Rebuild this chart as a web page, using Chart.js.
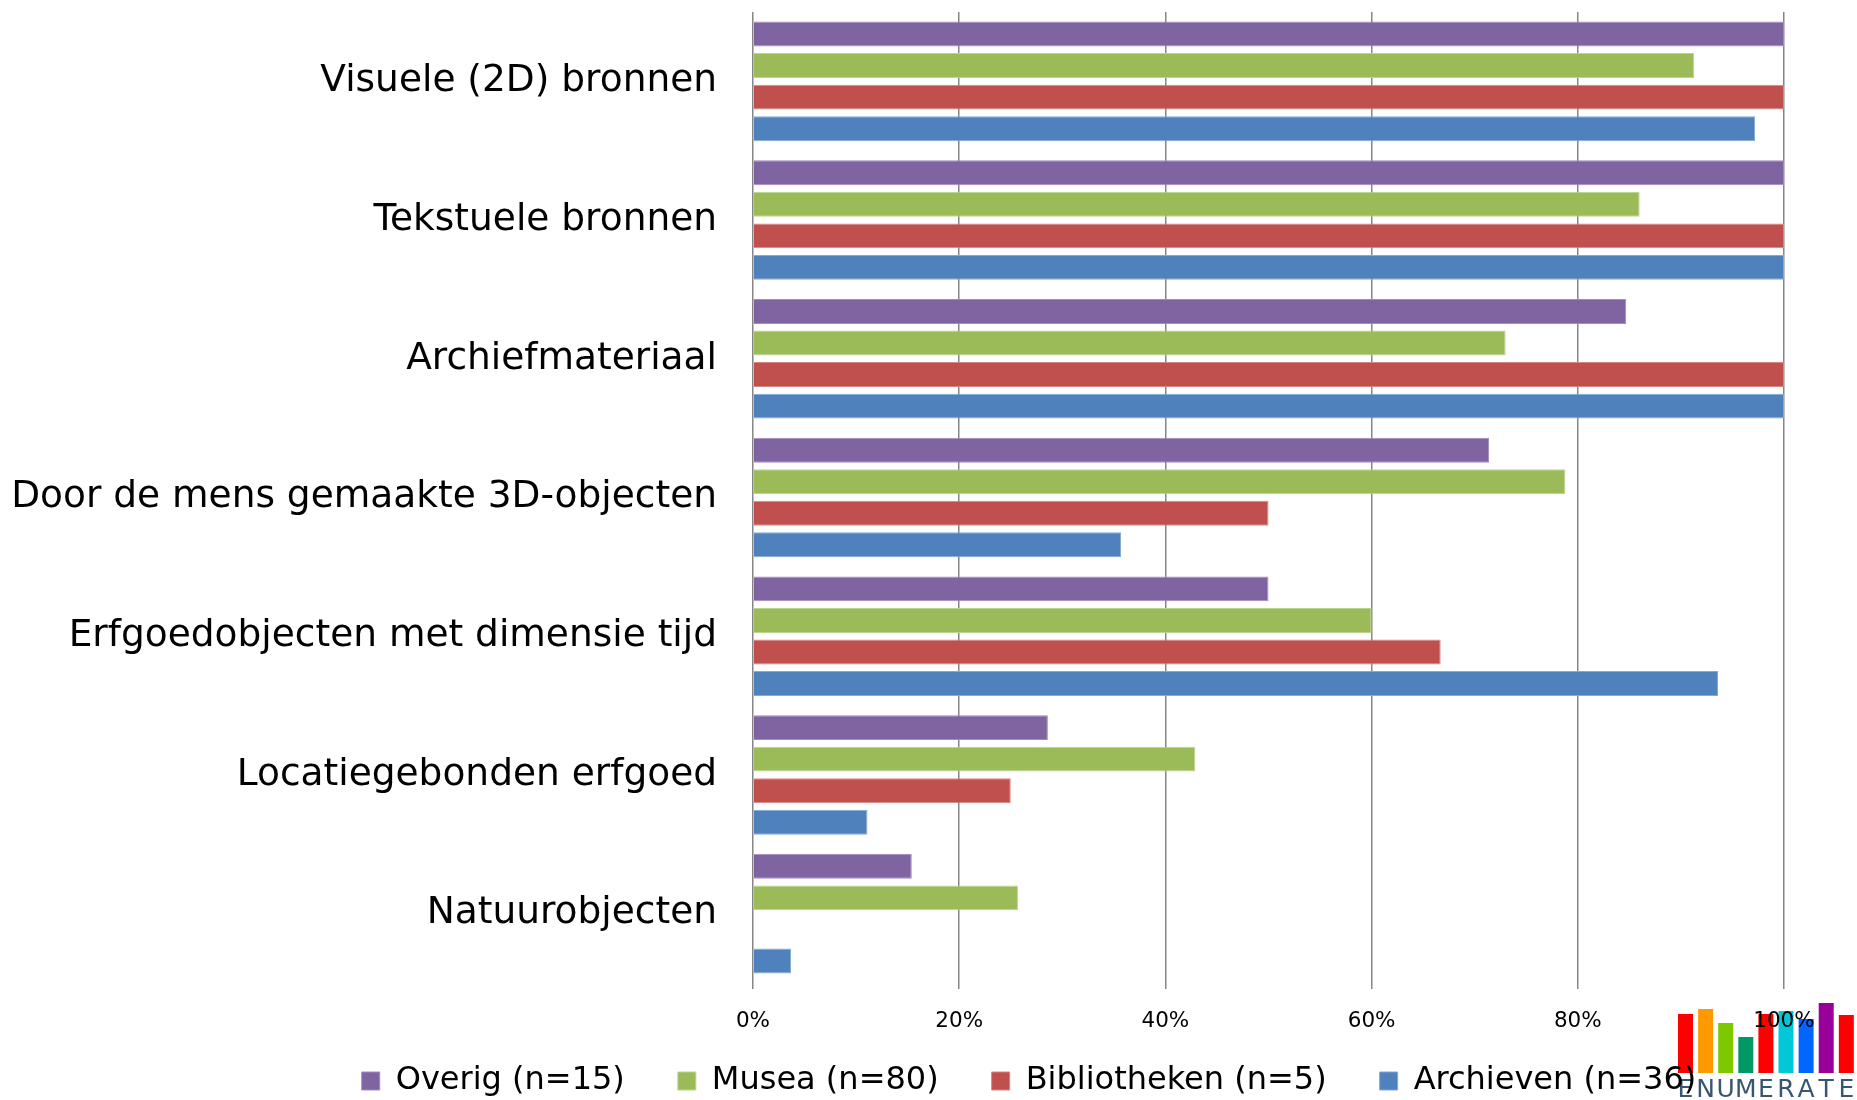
<!DOCTYPE html>
<html>
<head>
<meta charset="utf-8">
<script src="https://cdn.jsdelivr.net/npm/chart.js@4.4.0/dist/chart.umd.min.js"></script>
<style>
  html, body { margin: 0; padding: 0; background: #fff; overflow: hidden; }
  #wrap { width: 1857px; height: 1100px; }
</style>
</head>
<body>
<div id="wrap"><canvas id="typesChart"></canvas></div>
<script>
const categories = [
    'Visuele (2D) bronnen',
    'Tekstuele bronnen',
    'Archiefmateriaal',
    'Door de mens gemaakte 3D-objecten',
    'Erfgoedobjecten met dimensie tijd',
    'Locatiegebonden erfgoed',
    'Natuurobjecten'
];
const seriesNames = ['Overig (n=15)', 'Musea (n=80)', 'Bibliotheken (n=5)', 'Archieven (n=36)'];
const overig = [100, 100, 84.7, 71.4, 50, 28.6, 15.4];
const musea = [91.3, 86, 73, 78.8, 60, 42.9, 25.7];
const bibliotheken = [100, 100, 100, 50, 66.7, 25, 0];
const archieven = [97.2, 100, 100, 35.7, 93.6, 11.1, 3.7];
const xTicks = [0, 20, 40, 60, 80, 100];

Chart.defaults.font.family = "'DejaVu Sans', Verdana, sans-serif";
Chart.defaults.color = '#000';

// legend sits right of centre and lower than chart.js puts it
const legendShift = {
    id: 'legendShift',
    afterLayout(chart) {
        const lg = chart.legend;
        lg.left += 274;
        lg.top -= 33;
        lg.bottom = chart.height;
    }
};

// ENUMERATE logo, bottom right
const logoColors = ['#ff0000', '#ff9900', '#7ec800', '#009966', '#ff0000', '#00c8d8', '#0066ff', '#990099', '#ff0000'];
const logoTops = [1014, 1009, 1023, 1037, 1014, 1011, 1019, 1003, 1015];
const logo = {
    id: 'logo',
    beforeDraw(chart) {
        const ctx = chart.ctx;
        ctx.save();
        ctx.fillStyle = '#fff';
        ctx.fillRect(0, 0, chart.width, chart.height);
        const letters = 'ENUMERATE'.split('');
        ctx.font = "25px 'DejaVu Sans'";
        ctx.textAlign = 'center';
        ctx.textBaseline = 'alphabetic';
        logoColors.forEach((c, i) => {
            const x = 1678 + i * 20.1;
            ctx.fillStyle = c;
            ctx.fillRect(x, logoTops[i], 15, 1073 - logoTops[i]);
            ctx.fillStyle = '#3a5570';
            ctx.fillText(letters[i], x + 7.5, 1097);
        });
        ctx.restore();
    }
};

const ctx = document.getElementById('typesChart').getContext('2d');

new Chart(ctx, {
    type: 'bar',
    data: {
        labels: categories,
        datasets: [{
                label: seriesNames[0],
                data: overig,
                backgroundColor: '#8064A2', // purple
                borderColor: '#a08bbd',
                borderWidth: 1
            },
            {
                label: seriesNames[1],
                data: musea,
                backgroundColor: '#9BBB59', // green
                borderColor: '#bcd48e',
                borderWidth: 1
            },
            {
                label: seriesNames[2],
                data: bibliotheken,
                backgroundColor: '#C0504D', // red
                borderColor: '#d68583',
                borderWidth: 1
            },
            {
                label: seriesNames[3],
                data: archieven,
                backgroundColor: '#4F81BD', // blue
                borderColor: '#85a8d4',
                borderWidth: 1
            }
        ]
    },
    options: {
        indexAxis: 'y',
        responsive: true,
        maintainAspectRatio: false,
        animation: false,
        categoryPercentage: 0.91,
        barPercentage: 0.79,
        layout: {
            padding: { top: 12, right: 73, bottom: 0, left: 0 }
        },
        plugins: {
            tooltip: { enabled: false },
            legend: {
                position: 'bottom',
                maxHeight: 55,
                labels: {
                    color: '#000',
                    boxWidth: 18,
                    boxHeight: 18,
                    padding: 53,
                    font: { size: 32 }
                }
            }
        },
        scales: {
            x: {
                min: 0,
                max: 100,
                afterBuildTicks: s => { s.ticks = xTicks.map(v => ({ value: v })); },
                afterFit: s => { s.height = 62; },
                grid: {
                    color: '#868686',
                    lineWidth: 1.5,
                    tickLength: 6
                },
                border: { display: false },
                ticks: {
                    color: '#000',
                    padding: 20,
                    maxRotation: 0,
                    font: { size: 21.5 },
                    callback: v => v + '%'
                }
            },
            y: {
                afterFit: s => {
                    s.width = 753;
                    s.paddingTop = 0;
                    s.paddingBottom = 0;
                },
                grid: { display: false, drawTicks: false },
                border: { display: false },
                ticks: {
                    color: '#000',
                    padding: 36,
                    autoSkip: false,
                    font: { size: 37.5 }
                }
            }
        }
    },
    plugins: [legendShift, logo]
});
</script>
</body>
</html>
